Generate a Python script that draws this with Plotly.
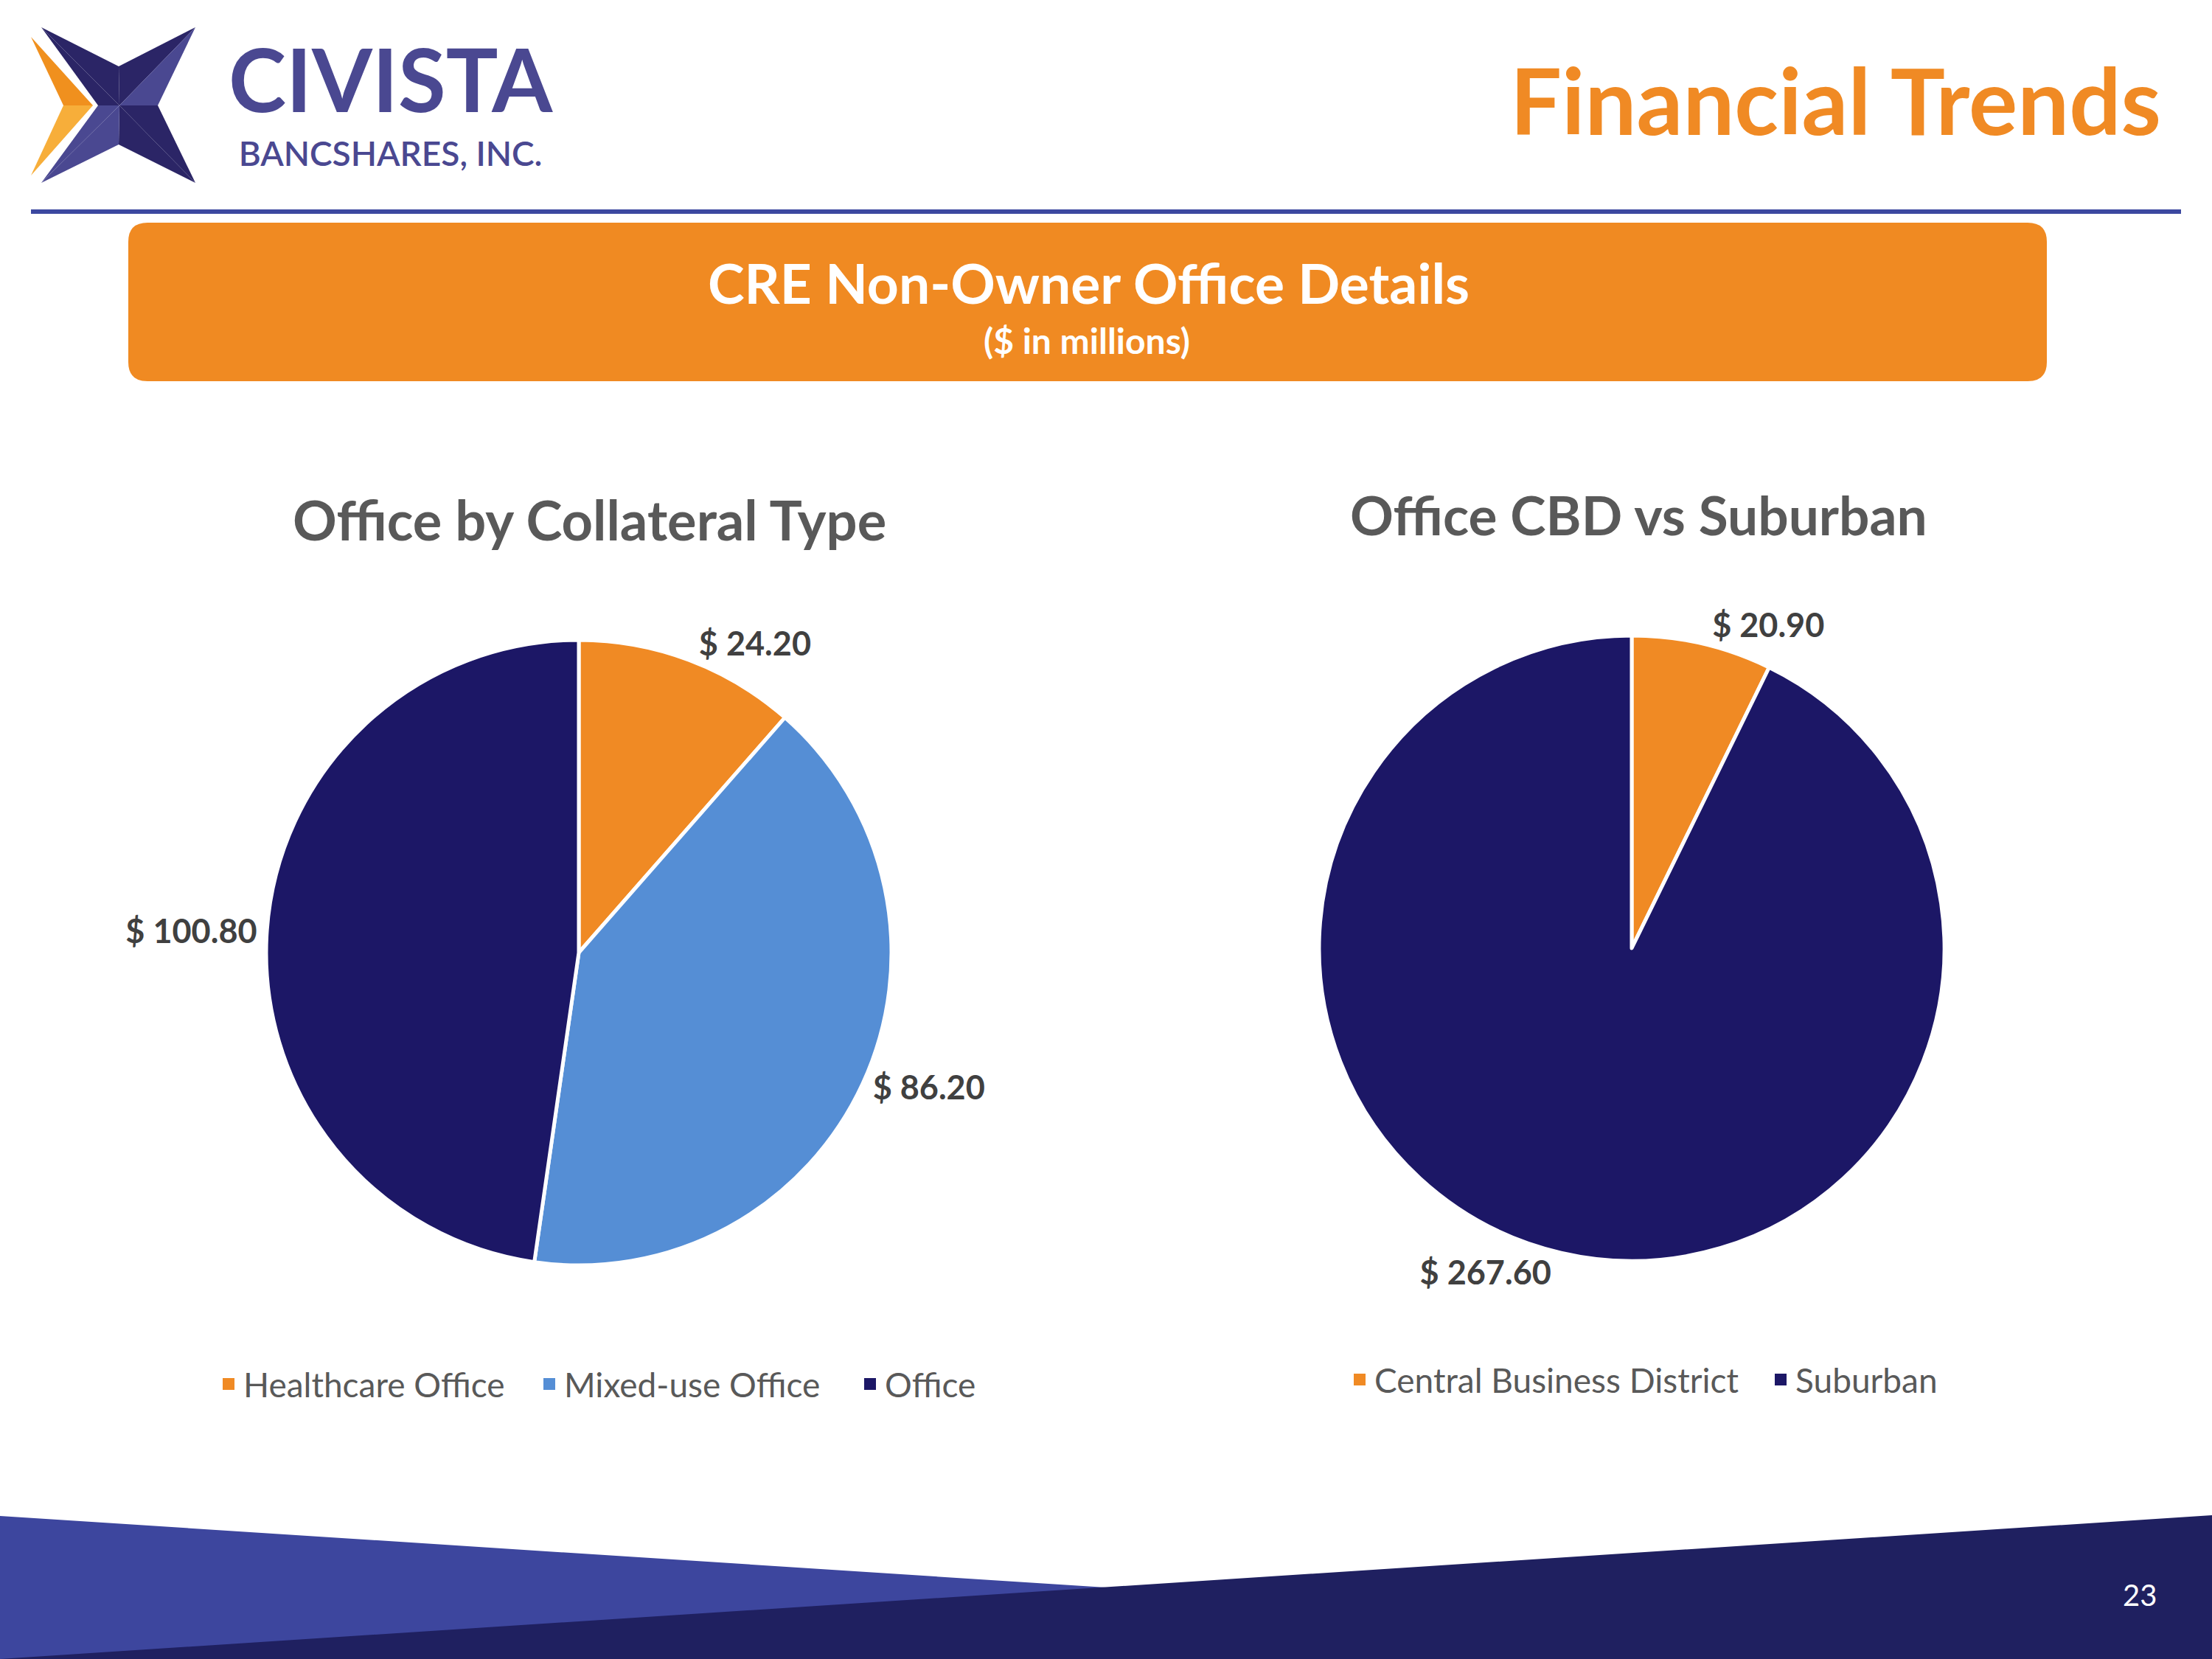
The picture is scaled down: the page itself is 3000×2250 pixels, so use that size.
import plotly.graph_objects as go

# ---------------- data ----------------
collateral_types = ["Healthcare Office", "Mixed-use Office", "Office"]
collateral_values = [24.20, 86.20, 100.80]
location_types = ["Central Business District", "Suburban"]
location_values = [20.90, 267.60]

ORANGE = "#F08A24"
LIGHTBLUE = "#558ED5"
NAVY = "#1C1766"
collateral_colors = [ORANGE, LIGHTBLUE, NAVY]
location_colors = [ORANGE, NAVY]

W, H = 3000, 2250
FONT = "Lato"
LABEL_FONT = dict(family=FONT, size=45, color="#404040", weight="bold")

fig = go.Figure()

fig.add_trace(go.Pie(
    labels=collateral_types, values=collateral_values,
    sort=False, direction="clockwise", rotation=0,
    marker=dict(colors=collateral_colors, line=dict(color="white", width=5)),
    texttemplate="$ %{value:.2f}", textposition="outside",
    outsidetextfont=LABEL_FONT,
    domain=dict(x=[361 / W, 1209 / W], y=[(H - 1716) / H, (H - 868) / H]),
    hoverinfo="skip", showlegend=False,
))

fig.add_trace(go.Pie(
    labels=location_types, values=location_values,
    sort=False, direction="clockwise", rotation=0,
    marker=dict(colors=location_colors, line=dict(color="white", width=5)),
    texttemplate="$ %{value:.2f}", textposition="outside",
    outsidetextfont=LABEL_FONT,
    domain=dict(x=[1789 / W, 2637 / W], y=[(H - 1710) / H, (H - 862) / H]),
    hoverinfo="skip", showlegend=False,
))

# legend entries (square swatches) for each pie category
for name, color in zip(collateral_types, collateral_colors):
    fig.add_trace(go.Scatter(x=[None], y=[None], mode="markers", name=name,
                             marker=dict(symbol="square", size=16, color=color, line=dict(width=0)),
                             legend="legend", hoverinfo="skip"))
for name, color in zip(location_types, location_colors):
    fig.add_trace(go.Scatter(x=[None], y=[None], mode="markers", name=name,
                             marker=dict(symbol="square", size=16, color=color, line=dict(width=0)),
                             legend="legend2", hoverinfo="skip"))

shapes = []

def poly(pts, color):
    path = "M " + " L ".join(f"{x},{y}" for x, y in pts) + " Z"
    shapes.append(dict(type="path", xref="x", yref="y", path=path,
                       fillcolor=color, line=dict(width=0), layer="below"))

# header rule
shapes.append(dict(type="line", xref="x", yref="y", x0=42, x1=2958, y0=287, y1=287,
                   line=dict(color="#3C48A0", width=6), layer="below"))

# orange banner (rounded rectangle)
x0, x1, y0, y1, r = 174, 2776, 302, 517, 26
banner = (f"M {x0+r},{y0} L {x1-r},{y0} Q {x1},{y0} {x1},{y0+r} L {x1},{y1-r} "
          f"Q {x1},{y1} {x1-r},{y1} L {x0+r},{y1} Q {x0},{y1} {x0},{y1-r} "
          f"L {x0},{y0+r} Q {x0},{y0} {x0+r},{y0} Z")
shapes.append(dict(type="path", xref="x", yref="y", path=banner,
                   fillcolor="#F08A22", line=dict(width=0), layer="below"))

# footer bands
poly([(0, 2056), (1500, 2153), (1500, 2250), (0, 2250)], "#3D469E")
poly([(0, 2250), (3000, 2055), (3000, 2250)], "#1F2060")

# logo star
DARK = "#2B2566"
MED = "#4A4891"
TL, TR, BR, BL = (56, 37), (265, 37), (265, 248), (56, 248)
TOP, RGT, BOT, LFT, C = (161, 90), (214, 143), (161, 196), (133, 143), (162, 143)
poly([TL, TOP, C], DARK)
poly([TL, C, LFT], DARK)
poly([TR, TOP, C], DARK)
poly([TR, C, RGT], MED)
poly([BR, RGT, C], DARK)
poly([BR, C, BOT], DARK)
poly([BL, BOT, C], MED)
poly([BL, C, LFT], MED)
# orange chevron
poly([(42, 50), (126, 143), (86, 143)], "#F0901E")
poly([(86, 143), (126, 143), (42, 238)], "#F7AE3A")

annotations = []

def text(x, y, s, size, color, bold=False, xanchor="center", family=FONT, weight=None):
    annotations.append(dict(x=x, y=y, xref="x", yref="y", text=s, showarrow=False,
                            xanchor=xanchor, yanchor="middle", align="center",
                            font=dict(family=family, size=size, color=color,
                                      weight=weight or ("bold" if bold else "normal"))))

text(530, 135,
     "<span style='font-size:118px;font-weight:700'>CIVISTA</span><br>"
     "<span style='font-size:46px;font-weight:600'>BANCSHARES, INC.</span>",
     56, MED)
text(2933, 135, "Financial Trends", 124, "#F08A24", bold=True, xanchor="right")
text(1476, 383, "CRE Non-Owner Office Details", 75, "white", bold=True)
text(1474, 461, "($ in millions)", 48, "white", bold=True)
text(799, 704, "Office by Collateral Type", 74, "#595959", bold=True)
text(2222, 698, "Office CBD vs Suburban", 73, "#595959", bold=True)
text(2902, 2163, "23", 40, "white")

LEGEND_FONT = dict(family=FONT, size=46, color="#595959")
fig.update_layout(
    width=W, height=H,
    margin=dict(l=0, r=0, t=0, b=0),
    paper_bgcolor="white", plot_bgcolor="white",
    xaxis=dict(range=[0, W], visible=False, domain=[0, 1], fixedrange=True),
    yaxis=dict(range=[H, 0], visible=False, domain=[0, 1], fixedrange=True),
    shapes=shapes, annotations=annotations,
    legend=dict(orientation="h", x=290 / W, y=(H - 1877) / H, xanchor="left", yanchor="middle",
                font=LEGEND_FONT, bgcolor="rgba(0,0,0,0)", traceorder="normal",
                entrywidth=390, entrywidthmode="pixels", itemsizing="trace"),
    legend2=dict(orientation="h", x=1824 / W, y=(H - 1871) / H, xanchor="left", yanchor="middle",
                 font=LEGEND_FONT, bgcolor="rgba(0,0,0,0)", traceorder="normal",
                 entrywidth=526, entrywidthmode="pixels", itemsizing="trace"),
    showlegend=True,
)

fig.write_html("out.html", config={"displayModeBar": False},
               post_script="document.body.style.margin='0';")
